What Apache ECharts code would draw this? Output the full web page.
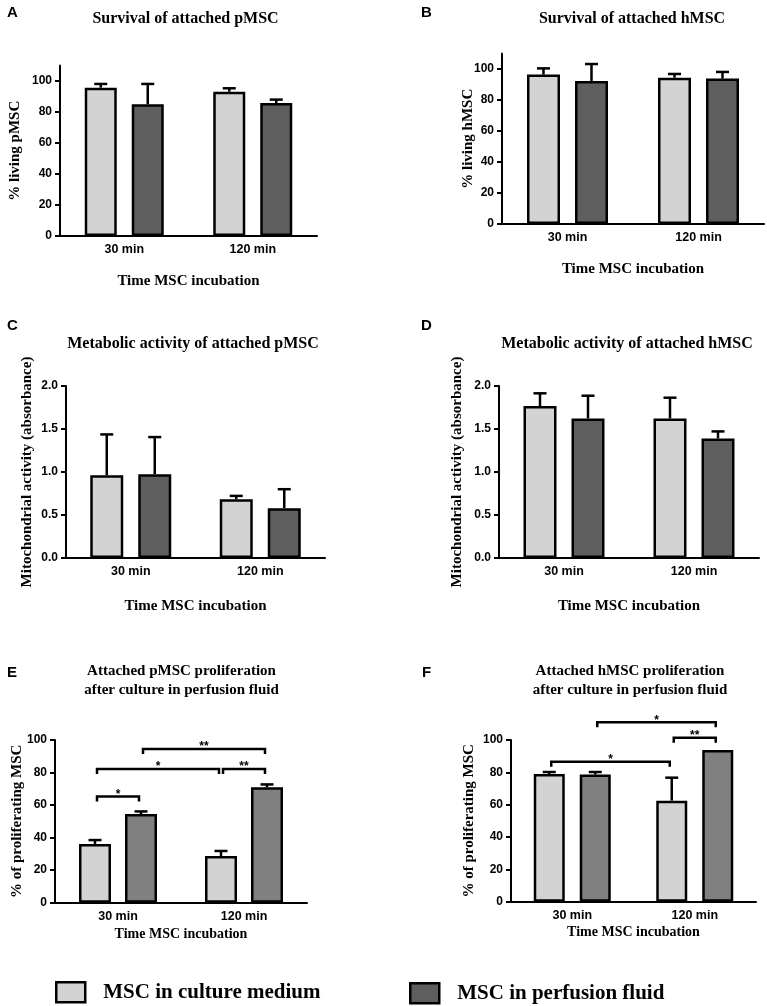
<!DOCTYPE html>
<html><head><meta charset="utf-8">
<script src="https://cdn.jsdelivr.net/npm/echarts@6/dist/echarts.min.js"></script>
<style>html,body{margin:0;padding:0;background:#fff}#c{width:767px;height:1006px}</style>
</head><body><div id="c"></div>
<script>
// ---------- DATA ----------
const categories = ['30 min', '120 min'];
const seriesNames = ['MSC in culture medium', 'MSC in perfusion fluid'];
const xAxisName = 'Time MSC incubation';

// A: Survival of attached pMSC (% living)
const survP_culture = [95.7, 93.1];
const survP_cultureErr = [2.4, 2.2];
const survP_perfusion = [85.0, 85.8];
const survP_perfusionErr = [13.1, 2.2];

// B: Survival of attached hMSC (% living)
const survH_culture = [96.4, 94.4];
const survH_cultureErr = [4.0, 2.4];
const survH_perfusion = [92.3, 93.8];
const survH_perfusionErr = [10.9, 4.3];

// C: Metabolic activity of attached pMSC (absorbance)
const metP_culture = [0.963, 0.683];
const metP_cultureErr = [0.474, 0.039];
const metP_perfusion = [0.975, 0.579];
const metP_perfusionErr = [0.431, 0.221];

// D: Metabolic activity of attached hMSC (absorbance)
const metH_culture = [1.767, 1.623];
const metH_cultureErr = [0.148, 0.241];
const metH_perfusion = [1.623, 1.390];
const metH_perfusionErr = [0.264, 0.082];

// E: Attached pMSC proliferation (% proliferating)
const prolP_culture = [36.1, 28.7];
const prolP_cultureErr = [2.4, 3.1];
const prolP_perfusion = [54.5, 70.9];
const prolP_perfusionErr = [1.6, 1.8];

// F: Attached hMSC proliferation (% proliferating)
const prolH_culture = [79.0, 62.5];
const prolH_cultureErr = [1.2, 14.2];
const prolH_perfusion = [78.6, 93.8];
const prolH_perfusionErr = [1.6, 0];

// significance brackets: [fromCategory, fromSeries, toCategory, toSeries, level]
const sigE = [[0, 0, 0, 1, 65.2], [0, 0, 1, 0, 82.2], [1, 0, 1, 1, 82.2], [0, 1, 1, 1, 94.5]];
const sigE_labels = ['*', '*', '**', '**'];
const sigF = [[0, 0, 1, 0, 86.6], [1, 0, 1, 1, 101.4], [0, 1, 1, 1, 110.9]];
const sigF_labels = ['*', '**', '*'];

// tick labels
const ticksPercent = [0, 20, 40, 60, 80, 100];
const ticksAbs = [0, 0.5, 1.0, 1.5, 2.0];

const panelLetters = ['A', 'B', 'C', 'D', 'E', 'F'];
const panelTitles = [
  'Survival of attached pMSC',
  'Survival of attached hMSC',
  'Metabolic activity of attached pMSC',
  'Metabolic activity of attached hMSC',
  'Attached pMSC proliferation\nafter culture in perfusion fluid',
  'Attached hMSC proliferation\nafter culture in perfusion fluid'
];
const yNames = ['% living pMSC', '% living hMSC',
  'Mitochondrial activity (absorbance)', 'Mitochondrial activity (absorbance)',
  '% of proliferating MSC', '% of proliferating MSC'];

// ---------- STYLE / LAYOUT ----------
const LIGHT = '#d3d3d3', DARK = '#5e5e5e', MID = '#808080';
const SERIF = 'Liberation Serif', SANS = 'Liberation Sans';
const LW = 2.5;

const panels = [
  {grid: {left: 60, top: 65.5, width: 257, height: 170.5}, max: 110, interval: 20, ticks: ticksPercent, dec: 0,
   bw: 32, gap: 15, dark: DARK, d: [survP_culture, survP_cultureErr, survP_perfusion, survP_perfusionErr],
   letter: [7, 5], title: [185.5, 10], tfs: 16, yGap: 37.5, xGap: 38, xfs: 15},
  {grid: {left: 502, top: 53.5, width: 262, height: 170.5}, max: 110, interval: 20, ticks: ticksPercent, dec: 0,
   bw: 33, gap: 15, dark: DARK, d: [survH_culture, survH_cultureErr, survH_perfusion, survH_perfusionErr],
   letter: [421, 5], title: [632, 10], tfs: 16, yGap: 26.5, xGap: 38, xfs: 15},
  {grid: {left: 66, top: 386, width: 259, height: 172}, max: 2, interval: 0.5, ticks: ticksAbs, dec: 1,
   bw: 33, gap: 15, dark: DARK, d: [metP_culture, metP_cultureErr, metP_perfusion, metP_perfusionErr],
   letter: [7, 318], title: [193, 335], tfs: 16, yGap: 31.5, xGap: 40.5, xfs: 15},
  {grid: {left: 499, top: 386, width: 260, height: 172}, max: 2, interval: 0.5, ticks: ticksAbs, dec: 1,
   bw: 33, gap: 15, dark: DARK, d: [metH_culture, metH_cultureErr, metH_perfusion, metH_perfusionErr],
   letter: [421, 318], title: [627, 335], tfs: 16, yGap: 34, xGap: 40.5, xfs: 15},
  {grid: {left: 55, top: 740, width: 252, height: 162.7}, max: 100, interval: 20, ticks: ticksPercent, dec: 0,
   bw: 32, gap: 14, dark: MID, d: [prolP_culture, prolP_cultureErr, prolP_perfusion, prolP_perfusionErr],
   letter: [7, 665], title: [181.5, 661.5], tfs: 15, yGap: 30.5, xGap: 25, xfs: 14,
   sig: sigE, sigLabels: sigE_labels},
  {grid: {left: 511, top: 740, width: 245, height: 161.7}, max: 100, interval: 20, ticks: ticksPercent, dec: 0,
   bw: 31, gap: 15, dark: MID, d: [prolH_culture, prolH_cultureErr, prolH_perfusion, prolH_perfusionErr],
   letter: [422, 665], title: [630, 662], tfs: 15, yGap: 34.5, xGap: 24, xfs: 14,
   sig: sigF, sigLabels: sigF_labels}
];

const grids = [], xAxes = [], yAxes = [], series = [], titles = [];

panels.forEach((p, i) => {
  grids.push(Object.assign({outerBoundsMode: 'none', containLabel: false}, p.grid));
  xAxes.push({
    gridIndex: i, type: 'category', data: categories,
    axisLine: {lineStyle: {color: '#000', width: 2}},
    axisTick: {alignWithLabel: true, length: 5, lineStyle: {color: '#000', width: 2}},
    axisLabel: {color: '#000', fontFamily: SANS, fontWeight: 'bold', fontSize: 12.5, margin: 7},
    splitLine: {show: false},
    name: xAxisName, nameLocation: 'middle', nameGap: p.xGap, nameMoveOverlap: false,
    nameTextStyle: {color: '#000', fontFamily: SERIF, fontWeight: 'bold', fontSize: p.xfs}
  });
  yAxes.push({
    gridIndex: i, type: 'value', min: 0, max: p.max, interval: p.interval,
    axisLine: {show: true, lineStyle: {color: '#000', width: 2}},
    axisTick: {show: true, length: 5, lineStyle: {color: '#000', width: 2}, customValues: p.ticks},
    axisLabel: {color: '#000', fontFamily: SANS, fontWeight: 'bold', fontSize: 12, margin: 8,
      customValues: p.ticks, formatter: v => Number(v).toFixed(p.dec)},
    splitLine: {show: false},
    name: yNames[i], nameLocation: 'middle', nameGap: p.yGap, nameMoveOverlap: false,
    nameTextStyle: {color: '#000', fontFamily: SERIF, fontWeight: 'bold', fontSize: 15}
  });
  const colors = [LIGHT, p.dark];
  const offs = [-(p.bw + p.gap) / 2, (p.bw + p.gap) / 2];
  [0, 1].forEach(s => {
    const vals = p.d[s * 2], errs = p.d[s * 2 + 1];
    series.push({
      type: 'bar', name: seriesNames[s], xAxisIndex: i, yAxisIndex: i, data: vals,
      barWidth: p.bw, barGap: (p.gap / p.bw * 100) + '%', z: 3, silent: true,
      itemStyle: {color: colors[s], borderColor: '#000', borderWidth: LW}
    });
    series.push({
      type: 'custom', name: seriesNames[s] + ' err', xAxisIndex: i, yAxisIndex: i, z: 2, silent: true,
      clip: false, encode: {x: 0, y: 1},
      data: vals.map((v, k) => [k, v, v + errs[k]]),
      renderItem: (params, api) => {
        if (api.value(2) - api.value(1) <= 0) return null;
        const base = api.coord([api.value(0), api.value(1)]);
        const top = api.coord([api.value(0), api.value(2)]);
        const x = base[0] + offs[s];
        return {type: 'group', children: [
          {type: 'line', shape: {x1: x, y1: base[1], x2: x, y2: top[1]}, style: {stroke: '#000', lineWidth: LW}},
          {type: 'line', shape: {x1: x - 6.5, y1: top[1], x2: x + 6.5, y2: top[1]}, style: {stroke: '#000', lineWidth: LW}}
        ]};
      }
    });
  });
  if (p.sig) {
    series.push({
      type: 'custom', name: 'sig' + i, xAxisIndex: i, yAxisIndex: i, z: 4, silent: true, clip: false,
      encode: {x: 0, y: 4},
      data: p.sig,
      renderItem: (params, api) => {
        const x1 = api.coord([api.value(0), 0])[0] + offs[api.value(1)] + 2;
        const x2 = api.coord([api.value(2), 0])[0] + offs[api.value(3)] - 2;
        const y = api.coord([0, api.value(4)])[1];
        return {type: 'group', children: [
          {type: 'polyline', shape: {points: [[x1, y + 5], [x1, y], [x2, y], [x2, y + 5]]},
           style: {stroke: '#000', lineWidth: LW, fill: null}},
          {type: 'text', x: (x1 + x2) / 2, y: y + 4,
           style: {text: p.sigLabels[params.dataIndex], align: 'center', verticalAlign: 'bottom',
             font: 'bold 12px "Liberation Sans"', fill: '#000'}}
        ]};
      }
    });
  }
  titles.push({text: panelLetters[i], left: p.letter[0], top: p.letter[1], padding: 0,
    textStyle: {color: '#000', fontFamily: SANS, fontWeight: 'bold', fontSize: 15, lineHeight: 15}});
  titles.push({text: panelTitles[i], left: p.title[0], top: p.title[1], padding: 0, textAlign: 'center',
    textStyle: {color: '#000', fontFamily: SERIF, fontWeight: 'bold', fontSize: p.tfs, lineHeight: p.tfs === 15 ? 19 : 18, align: 'center'}});
});

const legendCommon = {
  icon: 'rect', itemWidth: 29, itemHeight: 20, selectedMode: false, padding: 0,
  itemStyle: {borderColor: '#000', borderWidth: LW},
  textStyle: {color: '#000', fontFamily: SERIF, fontWeight: 'bold', fontSize: 21, padding: [0, 0, 0, 13]}
};

const option = {
  animation: false,
  backgroundColor: '#fff',
  title: titles,
  legend: [
    Object.assign({data: [seriesNames[0]], left: 55, top: 981}, legendCommon),
    Object.assign({data: [seriesNames[1]], left: 409, top: 982}, legendCommon)
  ],
  grid: grids, xAxis: xAxes, yAxis: yAxes, series: series
};

const chart = echarts.init(document.getElementById('c'), null, {renderer: 'canvas'});
chart.setOption(option);
</script>
</body></html>
